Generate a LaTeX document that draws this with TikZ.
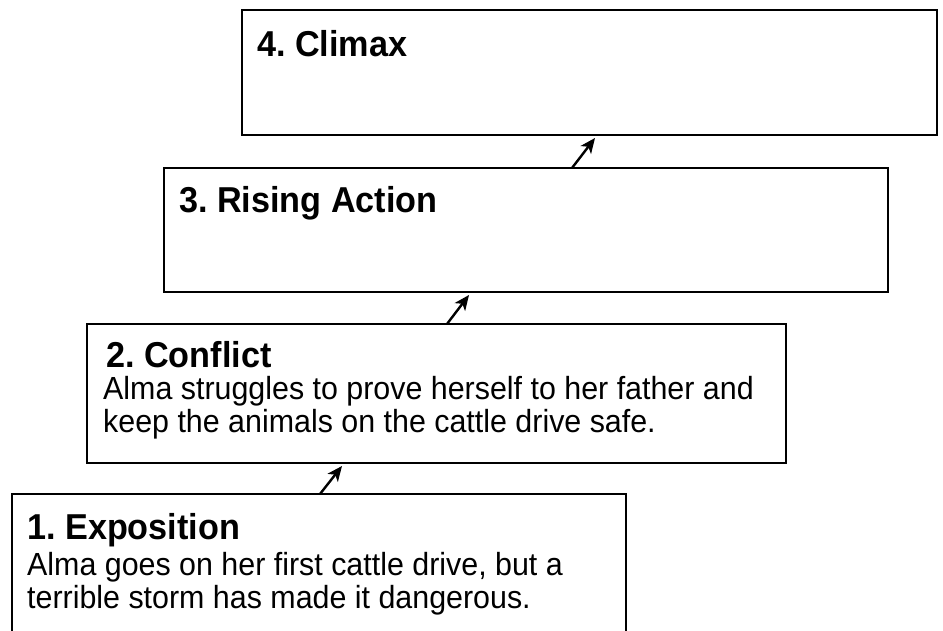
\documentclass[tikz,border=0pt]{standalone}
\usepackage{fontspec}
\setmainfont{Liberation Sans}
\newfontfamily\headfont[FakeStretch=0.95]{Liberation Sans}
\newfontfamily\bodyfont[FakeStretch=0.95]{Liberation Sans}
\usetikzlibrary{arrows.meta}
\frenchspacing
\tikzset{
  stagebox/.style={draw=black, line width=2.4pt, fill=none, inner sep=0pt},
  headtext/.style={anchor=base west, inner sep=0pt, font=\headfont\bfseries\fontsize{36}{40}\selectfont},
  bodytext/.style={anchor=base west, inner sep=0pt, align=left, font=\bodyfont\fontsize{32}{34}\selectfont},
  arr/.style={line width=2.4pt, -{Stealth[length=15pt,width=13pt,inset=4pt]}}
}
\begin{document}
\begin{tikzpicture}[x=1pt,y=-1pt]
\useasboundingbox (0,0) rectangle (943,630);
\clip (0,0) rectangle (943,630);
\fill[white] (0,0) rectangle (943,630);
% boxes
\draw[stagebox] (242,10) rectangle (937,135);
\coordinate (b4sw) at (242,135);
\draw[stagebox] (164,168) rectangle (888,292);
\coordinate (b3nw) at (164,168);
\coordinate (b3sw) at (164,292);
\draw[stagebox] (87,324) rectangle (786,463);
\coordinate (b2nw) at (87,324);
\coordinate (b2sw) at (87,463);
\draw[stagebox] (12,494) rectangle (626,660);
\coordinate (b1nw) at (12,494);
% texts
\node[headtext] (t4) at (257,56) {4. Climax};
\node[headtext] (t3) at (179,212) {3. Rising Action};
\node[headtext] (t2) at (106,367) {2. Conflict};
\node[bodytext] (d2a) at (103,399) {Alma struggles to prove herself to her father and};
\node[bodytext] (d2b) at (103,432) {keep the animals on the cattle drive safe.};
\node[headtext] (t1) at (27,539) {1. Exposition};
\node[bodytext] (d1a) at (27,575) {Alma goes on her first cattle drive, but a};
\node[bodytext] (d1b) at (27,608) {terrible storm has made it dangerous.};
% arrows
\draw[arr] ([xshift=308pt]b1nw) -- ([xshift=255pt,yshift=-3pt]b2sw);
\draw[arr] ([xshift=360pt]b2nw) -- ([xshift=305pt,yshift=-3pt]b3sw);
\draw[arr] ([xshift=408pt]b3nw) -- ([xshift=353pt,yshift=-3pt]b4sw);
\end{tikzpicture}
\end{document}
